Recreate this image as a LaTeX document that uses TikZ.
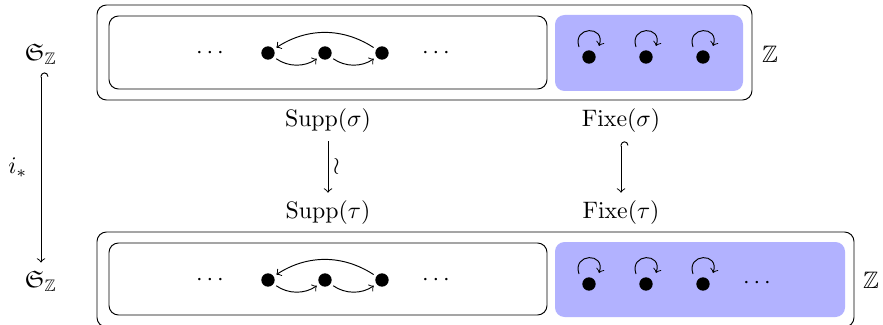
\documentclass[tikz,border=0pt]{standalone}
\usepackage{amssymb}
\usetikzlibrary{arrows}
\begin{document}
\begin{tikzpicture}[x=0.42pt,y=-0.42pt,
  dot/.style={circle,fill=black,inner sep=0pt,minimum size=5.6pt},
  frame/.style={draw,rounded corners=4pt},
  fixbox/.style={fill=blue!30,rounded corners=4pt},
  cyc/.style={->,shorten <=1.2pt,shorten >=1.2pt},
  selfloop/.style={->}]
\useasboundingbox (0,0) rectangle (883,324);
% top row
\draw[frame] (97,5) rectangle (752,100);
\draw[frame] (109,16) rectangle (547,89);
\fill[fixbox] (555,15) rectangle (743,91);
\node (tl) at (210,53) {$\cdots$};
\node (tr) at (436,53) {$\cdots$};
\node[dot] (d1) at (268,53) {};
\node[dot] (d2) at (325,53) {};
\node[dot] (d3) at (382,53) {};
\draw[cyc] (d1) to[bend right=35] (d2);
\draw[cyc] (d2) to[bend right=35] (d3);
\draw[cyc] (d3) to[bend right=33] (d1);
\node[dot] (f1) at (589,57) {};
\node[dot] (f2) at (646,57) {};
\node[dot] (f3) at (703,57) {};
\foreach \n in {f1,f2,f3}
  \draw[selfloop] ([shift={(-10,-10)}]\n.center) .. controls +(-7,-21) and +(7,-21) .. ([shift={(10,-11)}]\n.center);
\node (Ztop) at (770,54) {$\mathbb{Z}$};
% bottom row
\draw[frame] (97,232) rectangle (854,327);
\draw[frame] (109,243) rectangle (547,315);
\fill[fixbox] (555,242) rectangle (845,317);
\node (bl) at (210,280) {$\cdots$};
\node (br) at (436,280) {$\cdots$};
\node[dot] (e1) at (268,280) {};
\node[dot] (e2) at (325,280) {};
\node[dot] (e3) at (382,280) {};
\draw[cyc] (e1) to[bend right=35] (e2);
\draw[cyc] (e2) to[bend right=35] (e3);
\draw[cyc] (e3) to[bend right=33] (e1);
\node[dot] (g1) at (589,284) {};
\node[dot] (g2) at (646,284) {};
\node[dot] (g3) at (703,284) {};
\foreach \n in {g1,g2,g3}
  \draw[selfloop] ([shift={(-10,-10)}]\n.center) .. controls +(-7,-21) and +(7,-21) .. ([shift={(10,-11)}]\n.center);
\node (gd) at (757,283) {$\cdots$};
\node (Zbot) at (871,280) {$\mathbb{Z}$};
% left column
\node (Sa) at (41,54) {$\mathfrak{S}_{\mathbb{Z}}$};
\node (Sb) at (41,281) {$\mathfrak{S}_{\mathbb{Z}}$};
\draw[right hook->] (Sa) -- node[left,inner sep=5.5pt] {$i_*$} (Sb);
% middle
\node (Ss) at (328,121) {$\mathrm{Supp}(\sigma)$};
\node (St) at (328,213) {$\mathrm{Supp}(\tau)$};
\draw[->] (Ss) -- node[right,inner sep=2pt] {$\wr$} (St);
\node (Fs) at (621,121) {$\mathrm{Fixe}(\sigma)$};
\node (Ft) at (621,213) {$\mathrm{Fixe}(\tau)$};
\draw[right hook->] (Fs) -- (Ft);
\end{tikzpicture}
\end{document}
